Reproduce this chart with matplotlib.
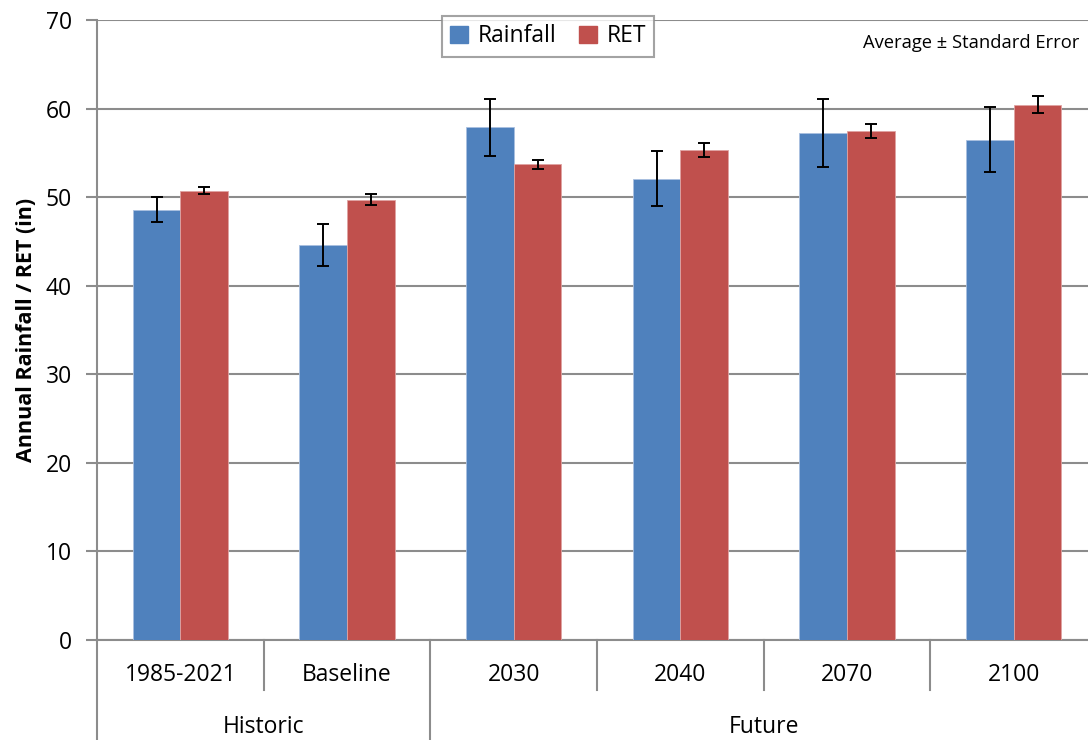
import matplotlib
matplotlib.use("Agg")
import matplotlib.pyplot as plt
from matplotlib.patches import Patch
import numpy as np

plt.rcParams["font.family"] = ["Open Sans", "DejaVu Sans"]

# 資料
categories = ["1985-2021", "Baseline", "2030", "2040", "2070", "2100"]
groups = ["Historic", "Future"]
group_sizes = [2, 4]
rainfall = [48.6, 44.6, 57.9, 52.1, 57.2, 56.5]
rainfall_se = [1.4, 2.35, 3.2, 3.1, 3.85, 3.7]
ret = [50.75, 49.7, 53.7, 55.3, 57.5, 60.45]
ret_se = [0.45, 0.6, 0.55, 0.8, 0.8, 0.95]
y_ticks = [0, 10, 20, 30, 40, 50, 60, 70]

blue = "#4F81BD"
red = "#C0504D"
grid_gray = "#8C8C8C"

W, H = 1088, 740
fig = plt.figure(figsize=(W / 100, H / 100), dpi=100)
# 圖表區右側略超出畫布（與原圖相同）
ax = fig.add_axes([97 / W, 100 / H, 1000 / W, 620 / H])

x = np.arange(len(categories))
w = 0.286
err_kw = dict(ecolor="black", elinewidth=1.4, capsize=4.5, capthick=1.4)
ax.bar(x - w / 2, rainfall, w, yerr=rainfall_se, color=blue, edgecolor="#A9C0E0",
       linewidth=0.6, error_kw=err_kw, zorder=3)
ax.bar(x + w / 2, ret, w, yerr=ret_se, color=red, edgecolor="#E0A3A2",
       linewidth=0.6, error_kw=err_kw, zorder=3)

ax.set_xlim(-0.5, len(categories) - 0.5)
ax.set_ylim(0, 70)
ax.set_yticks(y_ticks)
ax.tick_params(axis="y", labelsize=16.5, length=8, width=1.5, color=grid_gray, pad=10)
ax.set_xticks([])
ax.yaxis.grid(True, color=grid_gray, linewidth=1.5, zorder=0)
ax.set_axisbelow(True)
for s in ["top", "right"]:
    ax.spines[s].set_visible(False)
for s in ["left", "bottom"]:
    ax.spines[s].set_color(grid_gray)
    ax.spines[s].set_linewidth(1.5)

ax.set_ylabel("Annual Rainfall / RET (in)", fontsize=15.5, fontweight="bold", labelpad=6)

# 多層 x 軸標籤
trans = ax.get_xaxis_transform()
short = -50 / 620
long = -100 / 620
for i, c in enumerate(categories):
    ax.text(i, -35 / 620, c, transform=trans, ha="center", va="center", fontsize=16.5)

bounds = np.cumsum([0] + group_sizes) - 0.5
for b in np.arange(0.5, len(categories) - 0.5):
    depth = long if b in bounds else short
    ax.plot([b, b], [0, depth], transform=trans, color=grid_gray, lw=1.5, clip_on=False)
ax.plot([-0.5, -0.5], [0, long], transform=trans, color=grid_gray, lw=1.5, clip_on=False)
for g, lo, hi in zip(groups, bounds[:-1], bounds[1:]):
    ax.text((lo + hi) / 2, -87 / 620, g, transform=trans, ha="center", va="center",
            fontsize=16.5)

fig.text(1079 / W, 1 - 43 / H, "Average ± Standard Error", ha="right", va="center",
         fontsize=13.2)

handles = [Patch(color=blue, label="Rainfall"), Patch(color=red, label="RET")]
leg = fig.legend(handles=handles, loc="upper center", bbox_to_anchor=(548 / W, 1 - 5 / H),
                 ncol=2, fontsize=16.5, frameon=True, fancybox=False, handlelength=0.8,
                 handleheight=0.8, handletextpad=0.4, columnspacing=1.0,
                 borderpad=0.35)
leg.get_frame().set_edgecolor(grid_gray)
leg.get_frame().set_linewidth(1.5)

fig.savefig("out.png", dpi=100)
